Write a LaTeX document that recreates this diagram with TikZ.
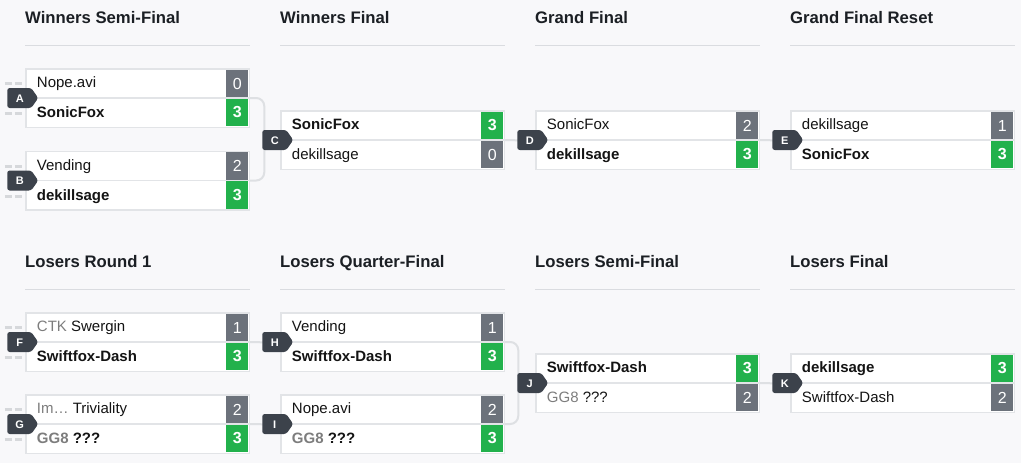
\documentclass[tikz,border=0pt]{standalone}
\usepackage{fontspec}
\setmainfont{Liberation Sans}
\usetikzlibrary{calc}
\definecolor{pagebg}{RGB}{248,248,250}
\definecolor{boxline}{RGB}{226,228,231}
\definecolor{connline}{RGB}{222,224,227}
\definecolor{stubcol}{RGB}{214,216,219}
\definecolor{losegray}{RGB}{108,114,123}
\definecolor{wingreen}{RGB}{34,177,76}
\definecolor{badgecol}{RGB}{60,66,75}
\definecolor{hdrtext}{RGB}{27,31,36}
\definecolor{nametext}{RGB}{20,20,20}
\definecolor{muted}{RGB}{125,125,125}
\definecolor{hdrline}{RGB}{218,220,224}
\pgfdeclarelayer{back}
\pgfdeclarelayer{lines}
\pgfsetlayers{back,lines,main}
\tikzset{
  mbox/.style={draw=boxline, line width=1.5pt, fill=white, minimum width=223.5pt, minimum height=58.5pt, inner sep=0pt, outer sep=0pt},
  scbase/.style={text=white, minimum width=22pt, minimum height=27.5pt, inner sep=0pt, outer sep=0pt},
  scw/.style={scbase, fill=wingreen, font=\fontsize{16}{16}\selectfont\bfseries},
  scl/.style={scbase, fill=losegray, font=\fontsize{16}{16}\selectfont},
  nmbase/.style={anchor=base west, inner sep=0pt, text=nametext},
  nmw/.style={nmbase, font=\fontsize{15}{18}\selectfont\bfseries},
  nml/.style={nmbase, font=\fontsize{15}{18}\selectfont},
  hdr/.style={anchor=base west, inner sep=0pt, text=hdrtext, font=\fontsize{16.7}{19}\selectfont\bfseries},
  hline/.style={draw=hdrline, line width=1pt},
  conn/.style={draw=connline, line width=2pt},
  stub/.style={draw=stubcol, line width=3pt, dash pattern=on 7pt off 3pt},
  badgetext/.style={text=white, font=\fontsize{11}{11}\selectfont\bfseries, inner sep=0pt},
}
% #1 name, #2 x, #3 y, #4 text1, #5 score1, #6 w/l, #7 text2, #8 score2, #9 w/l
\newcommand\mtch[9]{%
  \node[mbox, anchor=north west] (#1) at (#2,#3) {};
  \draw[boxline, line width=1.5pt] (#1.west) -- (#1.east);
  \node[sc#6, anchor=north east] (#1s1) at ($(#1.north east)+(-1,1)$) {#5};
  \node[sc#9, anchor=south east] (#1s2) at ($(#1.south east)+(-1,-1)$) {#8};
  \node[nm#6] (#1n1) at ($(#1.north west)+(11,19)$) {#4};
  \node[nm#9] (#1n2) at ($(#1.north west)+(11,49)$) {#7};
}
\newcommand\tagbadge[2]{%
  \coordinate (t#1) at (#2.west);
  \fill[badgecol, rounded corners=2.5pt] ($(t#1)+(-18.5,-10)$) -- ($(t#1)+(5.5,-10)$) -- ($(t#1)+(12.5,0)$) -- ($(t#1)+(5.5,10)$) -- ($(t#1)+(-18.5,10)$) -- cycle;
  \node[badgetext] (b#1) at ($(t#1)+(-6,0.5)$) {#1};
}
\newcommand\stubs[1]{%
  \draw[stub] ($(#1.north west)+(-21,15)$) -- ($(#1.north west)+(-4,15)$);
  \draw[stub] ($(#1.north west)+(-21,45)$) -- ($(#1.north west)+(-4,45)$);
}
\begin{document}
\begin{tikzpicture}[x=1pt, y=-1pt]
\begin{pgfonlayer}{back}
  \fill[pagebg] (0,0) rectangle (1021,463);
\end{pgfonlayer}
\useasboundingbox (0,0) rectangle (1021,463);

% headers
\node[hdr] (h1) at (25,23.5) {Winners Semi-Final};
\node[hdr] (h2) at (280,23.5) {Winners Final};
\node[hdr] (h3) at (535,23.5) {Grand Final};
\node[hdr] (h4) at (790,23.5) {Grand Final Reset};
\node[hdr] (h5) at (25,267.5) {Losers Round 1};
\node[hdr] (h6) at (280,267.5) {Losers Quarter-Final};
\node[hdr] (h7) at (535,267.5) {Losers Semi-Final};
\node[hdr] (h8) at (790,267.5) {Losers Final};
\foreach \hx in {25,280,535,790}{
  \draw[hline] (\hx,45) -- ++(225,0);
  \draw[hline] (\hx,289) -- ++(225,0);
}

% matches
\mtch{A}{25.75}{68.75}{Nope.avi}{0}{l}{SonicFox}{3}{w}
\mtch{B}{25.75}{151.25}{Vending}{2}{l}{dekillsage}{3}{w}
\mtch{C}{280.75}{110.75}{SonicFox}{3}{w}{dekillsage}{0}{l}
\mtch{D}{535.75}{110.75}{SonicFox}{2}{l}{dekillsage}{3}{w}
\mtch{E}{790.75}{110.75}{dekillsage}{1}{l}{SonicFox}{3}{w}
\mtch{F}{25.75}{312.75}{{\color{muted}CTK} Swergin}{1}{l}{Swiftfox-Dash}{3}{w}
\mtch{G}{25.75}{394.75}{{\color{muted}Im…} Triviality}{2}{l}{{\color{muted}GG8} ???}{3}{w}
\mtch{H}{280.75}{312.75}{Vending}{1}{l}{Swiftfox-Dash}{3}{w}
\mtch{I}{280.75}{394.75}{Nope.avi}{2}{l}{{\color{muted}GG8} ???}{3}{w}
\mtch{J}{535.75}{353.75}{Swiftfox-Dash}{3}{w}{{\color{muted}GG8} ???}{2}{l}
\mtch{K}{790.75}{353.75}{dekillsage}{3}{w}{Swiftfox-Dash}{2}{l}

% badges
\tagbadge{A}{A}
\tagbadge{B}{B}
\tagbadge{C}{C}
\tagbadge{D}{D}
\tagbadge{E}{E}
\tagbadge{F}{F}
\tagbadge{G}{G}
\tagbadge{H}{H}
\tagbadge{I}{I}
\tagbadge{J}{J}
\tagbadge{K}{K}

% connectors
\begin{pgfonlayer}{lines}
  \draw[conn, rounded corners=8pt] (A.east) -- ++(15,0) |- (B.east);
  \draw[conn, rounded corners=8pt] (H.east) -- ++(14,0) |- (I.east);
  \draw[conn] (C.east) -- (bD.west);
  \draw[conn] (D.east) -- (bE.west);
  \draw[conn] (F.east) -- (bH.west);
  \draw[conn] (G.east) -- (bI.west);
  \draw[conn] (J.east) -- (bK.west);
  \stubs{A}
  \stubs{B}
  \stubs{F}
  \stubs{G}
\end{pgfonlayer}
\end{tikzpicture}
\end{document}
